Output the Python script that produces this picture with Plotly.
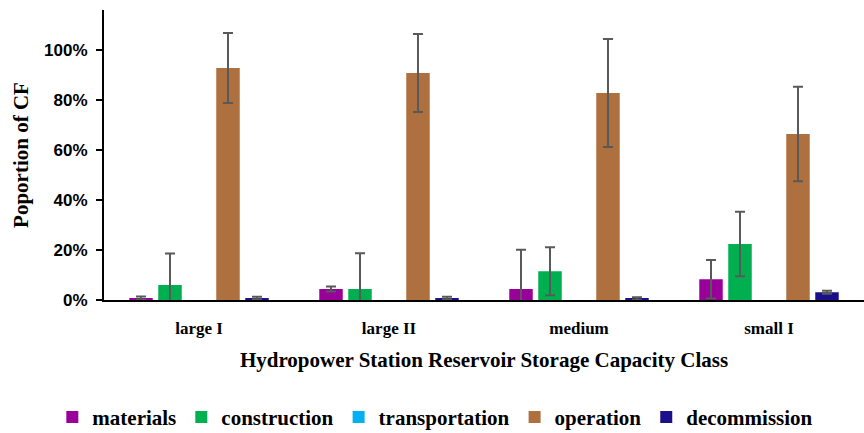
import plotly.graph_objects as go

# Storage capacity classes and life-cycle stage shares of the carbon footprint
classes = ["large I", "large II", "medium", "small I"]
stages = ["materials", "construction", "transportation", "operation", "decommission"]

materials = [0.008, 0.044, 0.044, 0.083]
materials_err = [0.006, 0.010, 0.157, 0.077]
construction = [0.060, 0.044, 0.115, 0.224]
construction_err = [0.126, 0.143, 0.096, 0.129]
transportation = [0.0, 0.0, 0.0, 0.0]
transportation_err = [0.0, 0.0, 0.0, 0.0]
operation = [0.928, 0.908, 0.828, 0.664]
operation_err = [0.140, 0.156, 0.216, 0.189]
decommission = [0.008, 0.008, 0.006, 0.031]
decommission_err = [0.005, 0.005, 0.005, 0.006]

y_ticks = [0, 0.2, 0.4, 0.6, 0.8, 1.0]
y_tick_labels = ["0%", "20%", "40%", "60%", "80%", "100%"]

series = [
    (materials, materials_err, "#990099"),
    (construction, construction_err, "#00B050"),
    (transportation, transportation_err, "#00B0F0"),
    (operation, operation_err, "#AE703F"),
    (decommission, decommission_err, "#1C0F8A"),
]

SERIF = "Liberation Serif, Times New Roman, serif"

fig = go.Figure()
for name, (vals, errs, color) in zip(stages, series):
    fig.add_trace(go.Bar(
        x=classes,
        y=vals,
        name=name,
        marker=dict(color=color, line=dict(width=0)),
        error_y=dict(type="data", array=errs, visible=any(e > 0 for e in errs),
                     color="#595959", thickness=2, width=5),
    ))

fig.update_layout(
    width=864,
    height=433,
    margin=dict(l=104, r=0, t=10, b=133, autoexpand=False),
    paper_bgcolor="white",
    plot_bgcolor="white",
    font=dict(family=SERIF, color="black"),
    barmode="group",
    bargap=0.237,
    bargroupgap=0.19,
    showlegend=True,
    legend=dict(
        orientation="h",
        x=-0.068, xanchor="left",
        y=-0.405, yanchor="middle",
        font=dict(family=SERIF, size=21, color="black", weight="bold"),
        itemwidth=30,
        tracegroupgap=0,
    ),
)

fig.update_xaxes(
    automargin=False,
    showline=True, linecolor="black", linewidth=2,
    showgrid=False, ticks="",
    ticklabelstandoff=12,
    tickfont=dict(family=SERIF, size=17, color="black", weight="bold"),
    title=dict(text="Hydropower Station Reservoir Storage Capacity Class",
               font=dict(family=SERIF, size=21, color="black", weight="bold"),
               standoff=15),
)

fig.update_yaxes(
    automargin=False,
    range=[0, 1.16],
    tickvals=y_ticks, ticktext=y_tick_labels,
    showline=True, linecolor="black", linewidth=2,
    showgrid=False, zeroline=False,
    ticks="outside", ticklen=6, tickwidth=2, tickcolor="black",
    ticklabelstandoff=5,
    tickfont=dict(family="Liberation Sans", size=17, color="black", weight="bold"),
    title=dict(text="Poportion of CF",
               font=dict(family=SERIF, size=21, color="black", weight="bold"),
               standoff=10),
)

fig.write_html("out.html")
